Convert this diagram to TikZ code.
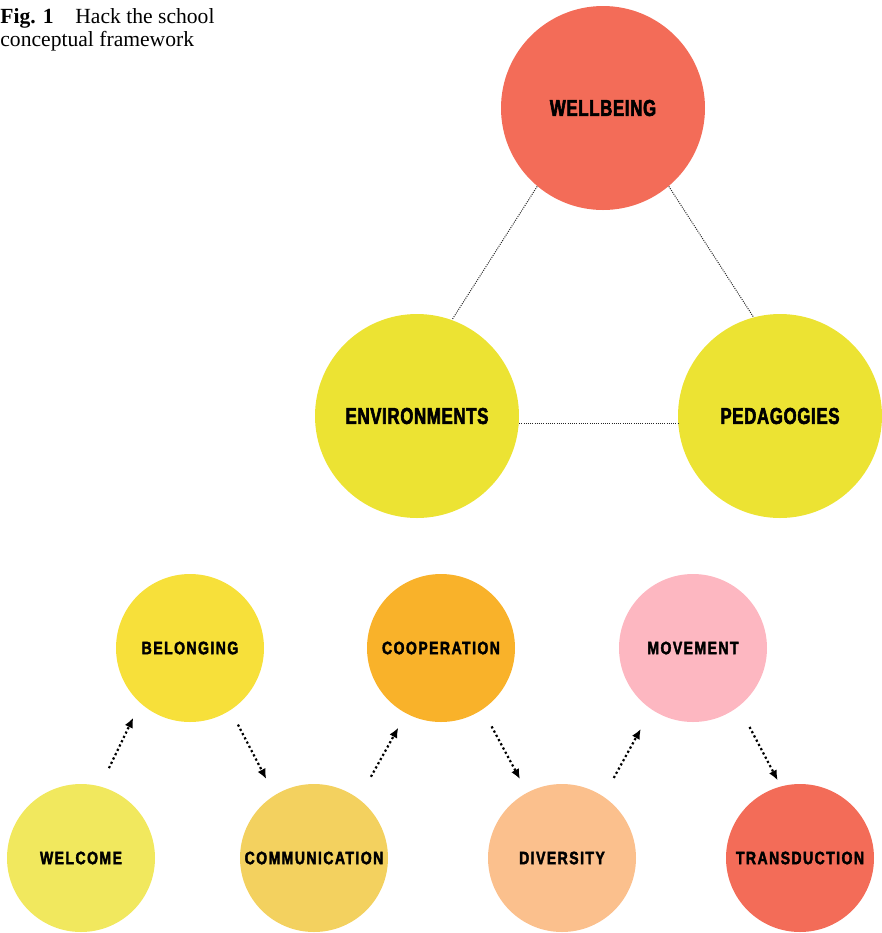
\documentclass[tikz,border=0pt]{standalone}
\usepackage{fontspec}
\setmainfont{Liberation Serif}
\newfontfamily\hackbig{Liberation Sans}[UprightFont=* Bold,FakeStretch=0.73,FakeBold=2.5,LetterSpace=3]
\newfontfamily\hacksmall{Liberation Sans}[UprightFont=* Bold,FakeStretch=0.78,FakeBold=2.2,LetterSpace=8]
\usepackage{tikz}
\usetikzlibrary{arrows.meta,positioning,calc}
\definecolor{hackred}{HTML}{F36C58}
\definecolor{hackyellow}{HTML}{ECE333}
\definecolor{belongyellow}{HTML}{F7E03A}
\definecolor{cooporange}{HTML}{F9B22A}
\definecolor{movepink}{HTML}{FDB7C1}
\definecolor{welcomeyellow}{HTML}{F1E85E}
\definecolor{commyellow}{HTML}{F3D15F}
\definecolor{diverpeach}{HTML}{FBC08D}
\tikzset{
bigcircle/.style={circle,fill=#1,draw=none,inner sep=0pt,minimum size=102pt,font=\hackbig\fontsize{11.5}{13}\selectfont},
smallcircle/.style={circle,fill=#1,draw=none,inner sep=0pt,minimum size=74pt,font=\hacksmall\fontsize{9}{11}\selectfont},
thinlink/.style={black!85,line width=0.5pt,dash pattern=on 0.5pt off 0.6pt},
steparrow/.style={black,line width=1.1pt,dash pattern=on 1.1pt off 1.3pt,-{Latex[length=5pt,width=4.4pt]}}
}
\begin{document}
\begin{tikzpicture}[x=0.5pt,y=-0.5pt]
\useasboundingbox (0,0) rectangle (882,933);
\node[anchor=north west,align=left,inner sep=0pt,font=\fontsize{10.8}{11.8}\selectfont] (caption) at (0,8) {\textbf{Fig. 1}\hspace{1em}Hack the school\\conceptual framework};
\node[bigcircle=hackred] (wellbeing) at (603,108) {WELLBEING};
\node[bigcircle=hackyellow] (environments) at (417,416) {ENVIRONMENTS};
\node[bigcircle=hackyellow] (pedagogies) at (780,416) {PEDAGOGIES};
\node[smallcircle=belongyellow] (belonging) at (190,648) {BELONGING};
\node[smallcircle=cooporange] (cooperation) at (441,648) {COOPERATION};
\node[smallcircle=movepink] (movement) at (693,648) {MOVEMENT};
\node[smallcircle=welcomeyellow] (welcome) at (81,858) {WELCOME};
\node[smallcircle=commyellow] (communication) at (314,858) {COMMUNICATION};
\node[smallcircle=diverpeach] (diversity) at (562,858) {DIVERSITY};
\node[smallcircle=hackred] (transduction) at (800,858) {TRANSDUCTION};
\draw[thinlink] (wellbeing.230) -- (environments.70);
\draw[thinlink] (wellbeing.310) -- (pedagogies.105);
\draw[thinlink] (environments.356) -- (pedagogies.184);
\draw[steparrow,shorten <=10pt,shorten >=8pt] (welcome.75) -- (belonging.228);
\draw[steparrow,shorten <=8pt,shorten >=9pt] (belonging.303) -- (communication.122);
\draw[steparrow,shorten <=12.5pt,shorten >=8pt] (communication.53) -- (cooperation.242);
\draw[steparrow,shorten <=9.5pt,shorten >=7.5pt] (cooperation.304) -- (diversity.118);
\draw[steparrow,shorten <=10.5pt,shorten >=11pt] (diversity.56) -- (movement.236);
\draw[steparrow,shorten <=11.5pt,shorten >=3.3pt] (movement.308) -- (transduction.105);
\end{tikzpicture}
\end{document}
